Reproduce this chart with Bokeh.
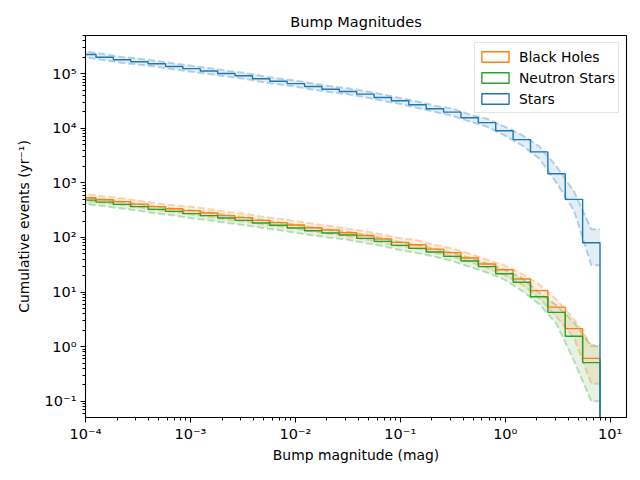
import numpy as np
from bokeh.plotting import figure
from bokeh.models import FixedTicker, CustomJSTickFormatter, Range1d
from bokeh.embed import file_html
from bokeh.resources import INLINE

# ---- data ----
bin_edges = [8.59e-5, 1.259e-4, 1.843e-4, 2.698e-4, 3.951e-4, 5.787e-4, 8.472e-4,
             1.2406e-3, 1.8168e-3, 2.660e-3, 3.895e-3, 5.703e-3, 8.351e-3,
             1.2229e-2, 1.791e-2, 2.622e-2, 3.839e-2, 5.622e-2, 8.233e-2,
             0.1205, 0.1765, 0.2584, 0.3784, 0.5541, 0.8112, 1.188, 1.740,
             2.547, 3.730, 5.462, 7.997]

series_names = ["Black Holes", "Neutron Stars", "Stars"]
series_colors = ["#ff7f0e", "#2ca02c", "#1f77b4"]

bh_counts = [536, 492, 453, 409, 367, 337, 310, 280, 251, 231, 206, 187, 169, 151, 137,
             122, 109, 93.5, 81.3, 73.8, 61.3, 52.7, 42, 32.6, 25.7, 17.3, 10.6, 5.3, 2.14, 0.61]
bh_upper = [616, 566, 521, 470, 422, 388, 366, 330, 296, 273, 243, 221, 199, 178, 162,
            144, 131, 112, 97.6, 88.6, 73.6, 63.2, 50.4, 39.1, 30.8, 21.6, 13.8, 7.2, 3.2, 1.07]
bh_lower = [466, 428, 394, 356, 319, 293, 264, 238, 213, 196, 175, 159, 144, 128, 116,
            104, 92.6, 79.5, 69.1, 62.7, 52.1, 44.8, 35.7, 27.7, 20.6, 13.8, 7.8, 3.5, 1.45, 0.21]

ns_counts = [484, 445, 404, 367, 327, 301, 273, 251, 227, 206, 184, 167, 149, 133, 121,
             111, 96.4, 84.9, 71.7, 63.1, 54.1, 45.1, 37, 29.2, 21.7, 15.1, 8.2, 4.25, 1.55, 0.51]
ns_upper = [542, 498, 452, 411, 366, 337, 314, 289, 261, 237, 212, 192, 171, 153, 139,
            128, 111, 97.6, 82.5, 72.6, 62.2, 51.9, 42.6, 33.6, 26, 18.1, 9.8, 5.7, 2.8, 1.02]
ns_lower = [407, 374, 339, 308, 275, 253, 224, 206, 186, 169, 151, 137, 122, 109, 99,
            91, 79, 69.6, 58.8, 51.7, 44.4, 37, 28.9, 22.8, 16.9, 10.6, 6.0, 2.6, 0.55, 0.10]

st_counts = [2.25e5, 2.01e5, 1.80e5, 1.66e5, 1.52e5, 1.36e5, 1.24e5, 1.12e5, 1.01e5, 9.2e4,
             8.1e4, 7.3e4, 6.6e4, 5.85e4, 5.2e4, 4.74e4, 4.23e4, 3.68e4, 3.2e4, 2.7e4,
             2.29e4, 1.98e4, 1.56e4, 1.27e4, 9.0e3, 6.2e3, 3.7e3, 1.47e3, 499, 80]
st_upper = [2.54e5, 2.27e5, 2.03e5, 1.88e5, 1.72e5, 1.54e5, 1.40e5, 1.27e5, 1.14e5, 1.04e5,
            9.2e4, 8.2e4, 7.5e4, 6.6e4, 5.9e4, 5.4e4, 4.8e4, 4.2e4, 3.6e4, 3.1e4,
            2.6e4, 2.3e4, 1.8e4, 1.5e4, 1.08e4, 7.6e3, 4.7e3, 2.0e3, 700, 141]
st_lower = [1.98e5, 1.77e5, 1.58e5, 1.46e5, 1.34e5, 1.20e5, 1.09e5, 9.9e4, 8.9e4, 8.1e4,
            7.1e4, 6.4e4, 5.8e4, 5.1e4, 4.6e4, 4.2e4, 3.7e4, 3.2e4, 2.8e4, 2.35e4,
            2.0e4, 1.7e4, 1.33e4, 1.07e4, 7.4e3, 4.9e3, 2.8e3, 1.0e3, 310, 31]

x_major = [1e-4, 1e-3, 1e-2, 1e-1, 1e0, 1e1]
y_major = [1e-1, 1e0, 1e1, 1e2, 1e3, 1e4, 1e5]

FONT = "DejaVu Sans"

p = figure(width=632, height=472, x_axis_type="log", y_axis_type="log",
           x_range=Range1d(1e-4, 14.3), y_range=Range1d(0.0503, 5.02e5),
           output_backend="svg", toolbar_location=None,
           min_border_left=85, min_border_right=6, min_border_top=35, min_border_bottom=55,
           title="Bump Magnitudes")
p.background_fill_color = "white"
p.border_fill_color = "white"
p.outline_line_color = "black"
p.outline_line_width = 1.1
p.xgrid.visible = False
p.ygrid.visible = False

p.title.align = "center"
p.title.text_font = FONT
p.title.text_font_size = "14.5px"
p.title.text_font_style = "normal"
p.title.text_color = "black"
p.title.standoff = 12

edges = np.array(bin_edges)
centers = np.sqrt(edges[:-1] * edges[1:])


def band(counts_up, counts_lo, color):
    xs = np.concatenate([[edges[0]], centers, [edges[-1]]])
    up = np.concatenate([[counts_up[0]], counts_up, [counts_up[-1]]])
    lo = np.concatenate([[counts_lo[0]], counts_lo, [counts_lo[-1]]])
    p.varea(x=xs, y1=lo, y2=up, fill_color=color, fill_alpha=0.12)
    p.line(xs, up, line_color=color, line_alpha=0.3, line_width=2, line_dash="7 3")
    p.line(xs, lo, line_color=color, line_alpha=0.3, line_width=2, line_dash="7 3")


def step(counts, color):
    xs, ys = [edges[0]], [1e-3]
    for i, c in enumerate(counts):
        xs += [edges[i], edges[i + 1]]
        ys += [c, c]
    xs.append(edges[-1])
    ys.append(1e-3)
    p.line(xs, ys, line_color=color, line_width=1.4)


band(st_upper, st_lower, series_colors[2])
band(bh_upper, bh_lower, series_colors[0])
band(ns_upper, ns_lower, series_colors[1])
step(bh_counts, series_colors[0])
step(ns_counts, series_colors[1])
step(st_counts, series_colors[2])

# legend proxies (placed outside the visible range)
for name, color in zip(series_names, series_colors):
    p.quad(left=[1e-9], right=[2e-9], top=[2e-9], bottom=[1e-9], fill_alpha=0,
           line_color=color, line_width=1.4, legend_label=name)

fmt_code = """
const sup = {'-':'\u207b','0':'\u2070','1':'\u00b9','2':'\u00b2','3':'\u00b3','4':'\u2074',
             '5':'\u2075','6':'\u2076','7':'\u2077','8':'\u2078','9':'\u2079'};
const e = Math.round(Math.log10(tick));
return '10' + String(e).split('').map(c => sup[c]).join('');
"""

x_minor = [m * 10.0 ** k for k in range(-5, 2) for m in range(2, 10)]
y_minor = [m * 10.0 ** k for k in range(-2, 6) for m in range(2, 10)]

p.xaxis.ticker = FixedTicker(ticks=x_major, minor_ticks=x_minor)
p.yaxis.ticker = FixedTicker(ticks=y_major, minor_ticks=y_minor)
for ax in (p.xaxis[0], p.yaxis[0]):
    ax.formatter = CustomJSTickFormatter(code=fmt_code)
    ax.major_label_text_font = FONT
    ax.major_label_text_font_size = "14.5px"
    ax.major_label_text_color = "black"
    ax.axis_label_text_font = FONT
    ax.axis_label_text_font_size = "13.9px"
    ax.axis_label_text_font_style = "normal"
    ax.axis_label_text_color = "black"
    ax.major_tick_in = 0
    ax.minor_tick_in = 0
    ax.major_tick_out = 5
    ax.minor_tick_out = 3
    ax.axis_line_color = "black"
    ax.major_tick_line_color = "black"
    ax.minor_tick_line_color = "black"
    ax.major_label_standoff = 4

p.xaxis.major_label_standoff = 3
p.xaxis.axis_label_standoff = 2
p.yaxis.axis_label_standoff = 10

p.xaxis.axis_label = "Bump magnitude (mag)"
p.yaxis.axis_label = "Cumulative events (yr\u207b\u00b9)"

lg = p.legend[0]
lg.location = "top_right"
lg.margin = 7
lg.padding = 3
lg.spacing = 0
lg.glyph_width = 34
lg.glyph_height = 13
lg.label_height = 21
lg.label_standoff = 7
lg.label_text_font = FONT
lg.label_text_font_size = "13.9px"
lg.label_text_color = "black"
lg.border_line_color = "#cccccc"
lg.border_line_width = 1
lg.background_fill_color = "white"
lg.background_fill_alpha = 0.8

open("out.html", "w", encoding="utf-8").write(file_html(p, INLINE))
